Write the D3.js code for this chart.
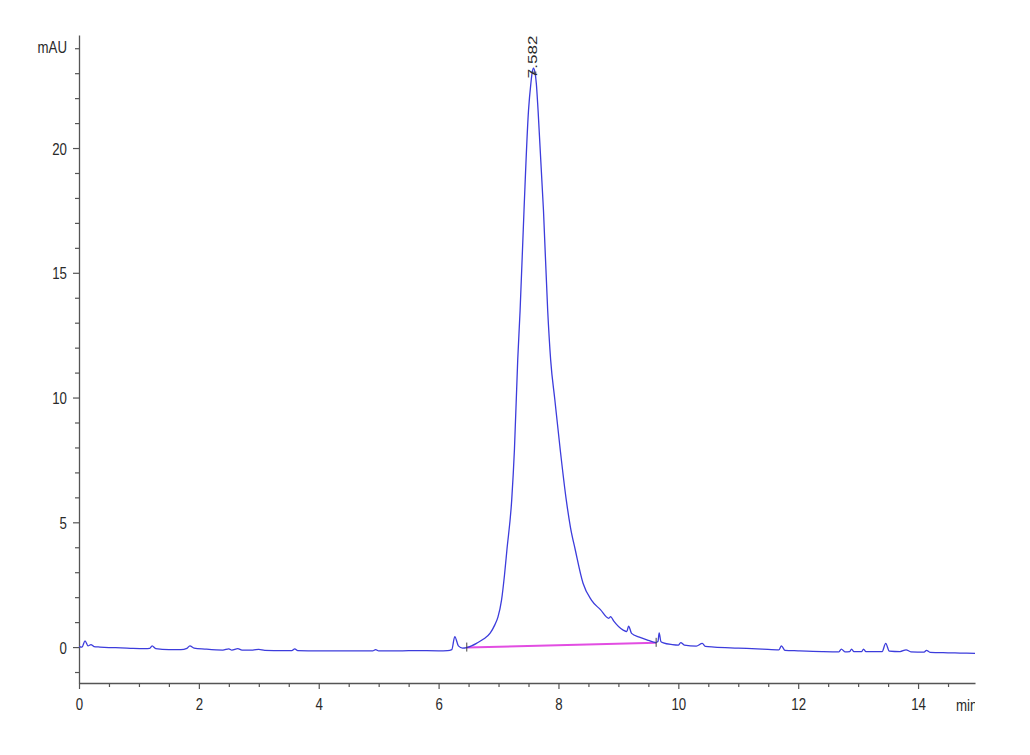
<!DOCTYPE html>
<html>
<head>
<meta charset="utf-8">
<script src="https://cdn.jsdelivr.net/npm/d3@7"></script>
<style>
  html, body { margin: 0; padding: 0; background: #fff; }
  svg { display: block; }
  text { font-family: "Liberation Sans", Arial, sans-serif; }
</style>
</head>
<body>
<svg id="chart" width="1030" height="755"></svg>
<script>
// ---- data ----
const times = [0.00,0.05,0.10,0.15,0.20,0.25,0.35,0.50,0.70,0.90,1.10,1.18,1.22,1.28,1.50,1.70,1.80,1.85,1.92,2.10,2.40,2.50,2.55,2.65,2.72,2.90,3.00,3.10,3.40,3.55,3.60,3.65,4.00,4.50,4.90,4.95,5.00,5.40,5.60,6.00,6.15,6.22,6.27,6.33,6.40,6.47,6.55,6.64,6.75,6.86,6.94,6.99,7.05,7.10,7.14,7.22,7.265,7.32,7.36,7.425,7.50,7.54,7.56,7.582,7.61,7.63,7.66,7.75,7.82,7.87,7.94,8.03,8.13,8.20,8.28,8.41,8.55,8.70,8.84,8.87,8.92,9.08,9.14,9.17,9.22,9.35,9.50,9.62,9.66,9.68,9.71,9.75,9.90,10.00,10.04,10.10,10.30,10.40,10.45,10.60,11.00,11.40,11.68,11.72,11.78,12.00,12.40,12.68,12.72,12.78,12.86,12.89,12.93,13.06,13.09,13.13,13.40,13.46,13.52,13.70,13.80,13.88,14.10,14.14,14.20,14.50,14.70,14.95];
const signal = [0.02,0.00,0.25,0.05,0.10,0.02,0.00,-0.02,-0.03,-0.05,-0.06,-0.05,0.05,-0.06,-0.10,-0.10,-0.05,0.05,-0.04,-0.08,-0.12,-0.07,-0.12,-0.06,-0.12,-0.12,-0.09,-0.13,-0.14,-0.14,-0.07,-0.14,-0.15,-0.15,-0.15,-0.10,-0.15,-0.15,-0.14,-0.15,-0.14,-0.10,0.42,0.05,-0.04,-0.02,0.05,0.16,0.32,0.56,0.90,1.2,1.88,2.9,3.9,5.9,7.9,11.5,13.5,17.5,21.5,22.6,23.0,23.2,23.0,22.6,21.5,17.5,13.5,11.5,9.9,7.9,5.9,4.8,3.9,2.56,1.88,1.50,1.15,1.22,1.05,0.68,0.62,0.84,0.55,0.40,0.27,0.18,0.22,0.57,0.22,0.17,0.10,0.08,0.18,0.08,0.04,0.15,0.03,0.00,-0.04,-0.08,-0.11,0.05,-0.13,-0.15,-0.18,-0.19,-0.08,-0.19,-0.18,-0.08,-0.18,-0.18,-0.08,-0.18,-0.18,0.15,-0.16,-0.18,-0.11,-0.19,-0.20,-0.13,-0.21,-0.23,-0.24,-0.25];
const baselineTimes = [6.47, 9.63];
const baselineValues = [-0.02, 0.17];
const peakTime = 7.582;
const peakValue = 23.2;
const peakLabel = "7.582";
const xMajorTicks = [0,2,4,6,8,10,12,14];
const yMajorTicks = [0,5,10,15,20];
const xUnit = "min";
const yUnit = "mAU";

// ---- layout ----
const svg = d3.select("#chart");
const x = d3.scaleLinear().domain([0, 14.95]).range([79, 975]);
const y = d3.scaleLinear().domain([-1.44, 24.53]).range([683, 35]);
const axisColor = "#555";
const textColor = "#2a2a2a";
const fontSize = "17px";
const squeeze = 0.78; // horizontally condensed lettering as in the reference

const xMinor = d3.range(0, 15, 0.5).filter(v => v % 2 !== 0);
const yMinor = d3.range(-1, 25, 1).filter(v => v % 5 !== 0);

// x axis
const gx = svg.append("g").attr("transform", `translate(0,${y.range()[0]})`);
gx.call(d3.axisBottom(x).tickValues(xMajorTicks).tickSize(6).tickSizeOuter(0).tickFormat(d3.format("d")));
gx.append("g").call(d3.axisBottom(x).tickValues(xMinor).tickSize(4).tickFormat("")).select(".domain").remove();
gx.selectAll("path.domain").attr("stroke", axisColor).attr("stroke-width", 1.3);
gx.selectAll(".tick line").attr("stroke", axisColor).attr("stroke-width", 1.2);
gx.selectAll(".tick text").attr("fill", textColor).style("font-size", fontSize)
  .attr("y", 27).attr("dy", 0).attr("transform", `scale(${squeeze},1)`);

// y axis
const gy = svg.append("g").attr("transform", `translate(${x.range()[0]},0)`);
gy.call(d3.axisLeft(y).tickValues(yMajorTicks).tickSize(6).tickSizeOuter(0).tickFormat(d3.format("d")));
gy.append("g").call(d3.axisLeft(y).tickValues(yMinor).tickSize(4).tickFormat("")).select(".domain").remove();
gy.selectAll("path.domain").attr("stroke", axisColor).attr("stroke-width", 1.3);
gy.selectAll(".tick line").attr("stroke", axisColor).attr("stroke-width", 1.2);
gy.selectAll(".tick text").attr("fill", textColor).style("font-size", fontSize)
  .attr("x", 0).attr("dy", "0.36em").attr("transform", `translate(-12,0) scale(${squeeze},1)`);

// unit labels
svg.append("text").attr("transform", `translate(67,${y(24) + 5}) scale(${squeeze},1)`)
  .attr("text-anchor", "end").attr("fill", textColor).style("font-size", fontSize).text(yUnit);
svg.append("defs").append("clipPath").attr("id", "clipR")
  .append("rect").attr("x", 0).attr("y", 0).attr("width", 975).attr("height", 755);
const gmin = svg.append("g").attr("clip-path", "url(#clipR)");
gmin.append("text").attr("transform", `translate(956,${y.range()[0] + 28}) scale(${squeeze},1)`)
  .attr("fill", textColor).style("font-size", fontSize).text(xUnit);

// baseline (integration)
const pts = times.map((t, i) => [t, signal[i]]);
const straight = d3.line().x(d => x(d[0])).y(d => y(d[1]));
const smooth = d3.line().x(d => x(d[0])).y(d => y(d[1])).curve(d3.curveMonotoneX);
svg.append("path")
  .datum(baselineTimes.map((t, i) => [t, baselineValues[i]]))
  .attr("d", straight).attr("fill", "none").attr("stroke", "#e24de2").attr("stroke-width", 2);

// trace
svg.append("path").datum(pts).attr("d", smooth)
  .attr("fill", "none").attr("stroke", "#3c3cdc").attr("stroke-width", 1.3)
  .attr("stroke-linejoin", "round");

// integration tick marks
baselineTimes.forEach((t, i) => {
  svg.append("line").attr("x1", x(t)).attr("x2", x(t))
    .attr("y1", y(baselineValues[i]) - 5).attr("y2", y(baselineValues[i]) + 4)
    .attr("stroke", "#444").attr("stroke-width", 1);
});

// peak label
const px = x(peakTime), py = y(peakValue);
svg.append("line").attr("x1", px - 3).attr("x2", px + 3).attr("y1", py + 4).attr("y2", py + 4)
  .attr("stroke", "#444").attr("stroke-width", 1);
svg.append("text")
  .attr("transform", `translate(${px + 4},${py + 10}) scale(${squeeze},1) rotate(-90)`)
  .attr("fill", textColor).style("font-size", fontSize).text(peakLabel);
</script>
</body>
</html>
